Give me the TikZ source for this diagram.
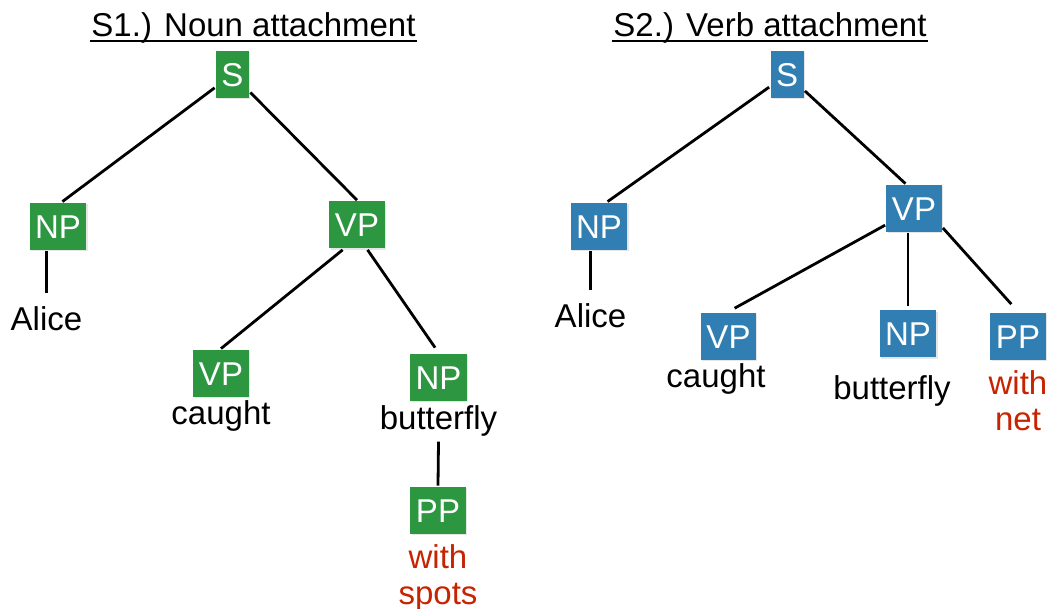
\documentclass[tikz,border=0pt]{standalone}
\usepackage{fontspec}
\setmainfont{Liberation Sans}
\usetikzlibrary{shadows}
\definecolor{gruen}{RGB}{44,150,64}
\definecolor{blau}{RGB}{49,127,178}
\definecolor{rot}{RGB}{200,35,0}

\begin{document}
\begin{tikzpicture}[x=1pt, y=1pt, line width=2.8pt,
    every node/.style={font=\fontsize{33}{36}\selectfont},
    kat/.style={text=white, minimum height=47pt, inner xsep=5.5pt, text height=24pt, text depth=0pt,
        drop shadow={opacity=0.2, shadow xshift=1.2pt, shadow yshift=-1.2pt}},
    katA/.style={kat, fill=gruen},
    katB/.style={kat, fill=blau},
    wort/.style={anchor=base},
    praep/.style={text=rot, align=center, anchor=north}]

    \useasboundingbox (0,0) rectangle (1050,609);

    % S1.) Noun attachment
    \node[inner sep=0pt, anchor=base] (titelA) at (253.5,572) {S1.) Noun attachment};
    \draw[line width=1.8pt] ([yshift=-4pt]titelA.base west) -- ([yshift=-4pt]titelA.base east);

    \node[katA] (sA) at (232.5,534.5) {S};
    \node[katA] (npA) at (58,382.5) {NP};
    \node[katA] (vpA) at (357,384) {VP};
    \node[katA] (vpcA) at (221,235.5) {VP};
    \node[katA] (npbA) at (438.5,231.5) {NP};
    \node[katA] (ppA) at (438,98.5) {PP};
    \node[wort] (aliceA) at (46.5,278) {Alice};
    \node[wort] (caughtA) at (221,184) {caught};
    \node[wort] (butterflyA) at (438.5,179) {butterfly};
    \node[praep] (withA) at (438,69) {with\\spots};

    \draw (sA) -- (npA.80);
    \draw (sA) -- (vpA.north);
    \draw (vpA.240) -- (vpcA.north);
    \draw[shorten >=6pt] (vpA.293) -- (npbA.north);
    \draw[shorten >=9pt] (npA.south -| aliceA) -- (aliceA.north);
    \draw (butterflyA.south) -- (ppA.north);

    % S2.) Verb attachment
    \node[inner sep=0pt, anchor=base] (titelB) at (770,572) {S2.) Verb attachment};
    \draw[line width=1.8pt] ([yshift=-4pt]titelB.base west) -- ([yshift=-4pt]titelB.base east);

    \node[katB] (sB) at (787,534.5) {S};
    \node[katB] (npB) at (599,382.5) {NP};
    \node[katB] (vpB) at (914,400.5) {VP};
    \node[katB] (vpcB) at (728.5,272.5) {VP};
    \node[katB] (npbB) at (908,275) {NP};
    \node[katB] (ppB) at (1018,272.5) {PP};
    \node[wort] (aliceB) at (590.5,281) {Alice};
    \node[wort] (caughtB) at (716,221) {caught};
    \node[wort] (butterflyB) at (892,209) {butterfly};
    \node[praep] (withB) at (1018,243) {with\\net};

    \draw (sB) -- (npB.71);
    \draw (sB) -- (vpB.109);
    \draw[shorten >=7pt] (vpB.210) -- (vpcB.north);
    \draw[shorten >=3pt] (vpB.south -| npbB) -- (npbB.north);
    \draw[shorten >=10pt] (vpB.326) -- (ppB.north);
    \draw[shorten >=9pt] (npB.south -| aliceB) -- (aliceB.north);

\end{tikzpicture}
\end{document}
